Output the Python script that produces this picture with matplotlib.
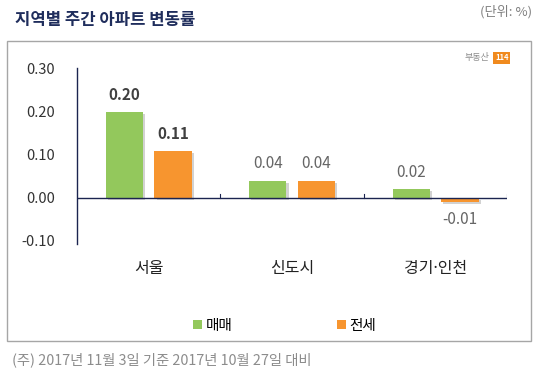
import numpy as np
import matplotlib
matplotlib.use("Agg")
import matplotlib.pyplot as plt
import matplotlib.patheffects as pe
from matplotlib.patches import Rectangle

plt.rcParams['font.family'] = ['Noto Sans CJK KR', 'DejaVu Sans']

# 데이터
regions = ['서울', '신도시', '경기·인천']
sale = [0.20, 0.04, 0.02]      # 매매
jeonse = [0.11, 0.04, -0.01]   # 전세
series_names = ['매매', '전세']
yticks = [-0.10, 0.00, 0.10, 0.20, 0.30]

GREEN = '#93C85C'
ORANGE = '#F7952F'
AXIS = '#1B2450'

fig = plt.figure(figsize=(5.4, 3.73), dpi=100)
fig.patch.set_facecolor('white')

# 바깥 테두리 박스
fig.patches.append(Rectangle((0.013, 0.086), 0.970, 0.804, transform=fig.transFigure,
                             fill=False, edgecolor='#A6A6A6', linewidth=1.0))

ax = fig.add_axes([0.1426, 0.346, 0.797, 0.472])
x = np.arange(len(regions)) + 0.5
w = 0.26
off = 0.17
shadow = [pe.SimplePatchShadow(offset=(1.5, -1.5), shadow_rgbFace='#7F7F7F', alpha=0.35), pe.Normal()]

b1 = ax.bar(x - off, sale, w, color=GREEN, label=series_names[0], path_effects=shadow, zorder=2)
b2 = ax.bar(x + off, jeonse, w, color=ORANGE, label=series_names[1], path_effects=shadow, zorder=2)

# 값 라벨 (서울만 굵게)
for bars in [b1, b2]:
    for j, r in enumerate(bars):
        v = r.get_height()
        bold = (j == 0)
        y = v + 0.02 if v >= 0 else v - 0.02
        ax.text(r.get_x() + r.get_width() / 2, y, f'{v:.2f}',
                ha='center', va='bottom' if v >= 0 else 'top',
                fontsize=11, color='#404040' if bold else '#666666',
                fontweight='bold' if bold else 'normal', zorder=3)

ax.set_xlim(0, len(regions))
ax.set_ylim(-0.107, 0.302)
ax.axhline(0, color=AXIS, lw=1.0, zorder=3)
for k in range(1, len(regions) + 1):
    ax.plot([k, k], [0, 0.01], color=AXIS, lw=0.8, zorder=3)

for s in ['top', 'right', 'bottom']:
    ax.spines[s].set_visible(False)
ax.spines['left'].set_color(AXIS)
ax.spines['left'].set_linewidth(1.0)
ax.set_yticks(yticks)
ax.set_yticklabels([f'{t:.2f}' for t in yticks], fontsize=10.5, color='#333333')
ax.tick_params(axis='y', length=0, pad=16)
ax.set_xticks(x)
ax.set_xticklabels(regions, fontsize=11.5, color='#222222')
for lbl in ax.get_xticklabels():
    lbl.set_fontfamily(['Noto Sans', 'Noto Sans CJK KR'])
ax.tick_params(axis='x', length=0, pad=12)

# 범례
leg = fig.legend(handles=[b1, b2], labels=series_names, loc='center', bbox_to_anchor=(0.527, 0.126),
                 ncol=2, frameon=False, fontsize=10.5, handlelength=0.6, handleheight=0.6,
                 handletextpad=0.25, columnspacing=7.2)
for h in leg.legend_handles:
    h.set_path_effects([])

# 제목 및 주석
fig.text(0.028, 0.946, '지역별 주간 아파트 변동률', fontsize=12, fontweight='bold',
         color='#1F2D5C', va='center', ha='left')
fig.text(0.985, 0.968, '(단위: %)', fontsize=9.5, color='#808080', va='center', ha='right')
fig.text(0.022, 0.035, '(주) 2017년 11월 3일 기준 2017년 10월 27일 대비', fontsize=10.3,
         color='#8C8C8C', va='center', ha='left')

# 로고
fig.text(0.906, 0.845, '부동산', fontsize=6.5, color='#8C8C8C', va='center', ha='right')
fig.text(0.929, 0.845, '114', fontsize=5.5, color='white', va='center', ha='center', fontweight='bold',
         bbox=dict(boxstyle='square,pad=0.2', fc='#F08A1E', ec='none'))

fig.savefig('out.png', dpi=100)
